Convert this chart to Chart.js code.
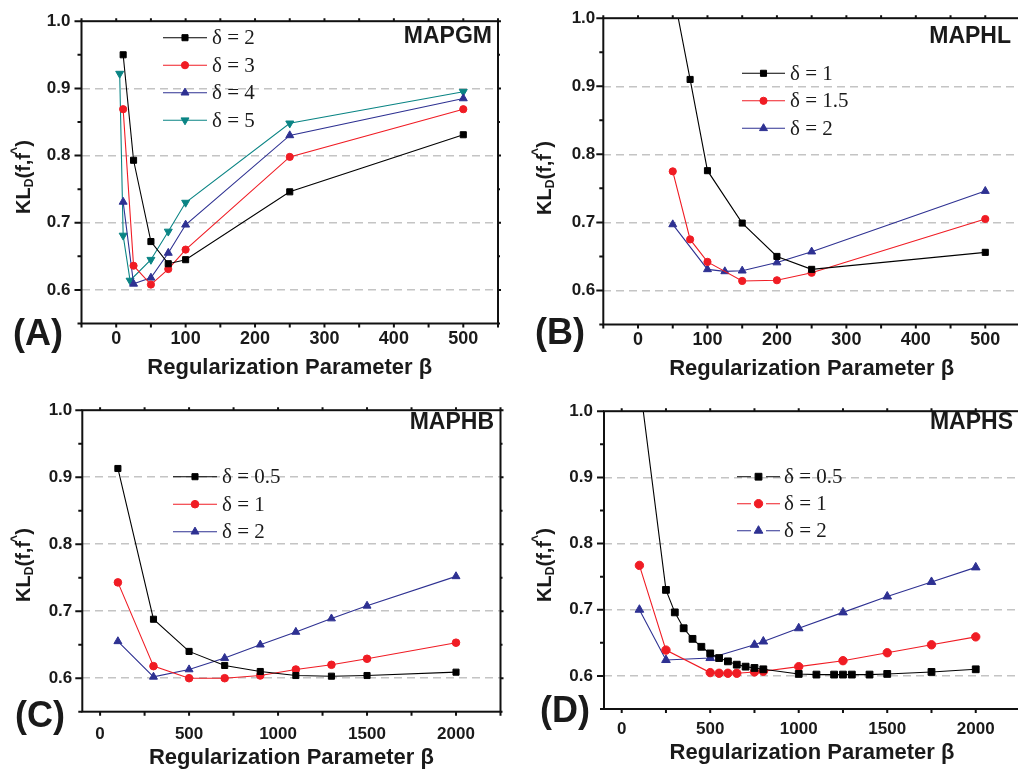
<!DOCTYPE html>
<html>
<head>
<meta charset="utf-8">
<script src="https://cdn.jsdelivr.net/npm/chart.js@4.4.1/dist/chart.umd.min.js"></script>
<style>
  html, body { margin: 0; padding: 0; background: #fff; overflow: hidden; }
  body { width: 1018px; height: 771px; position: relative; }
  canvas { position: absolute; }
  .txt { position: absolute; font-family: "Liberation Sans", Arial, sans-serif; font-weight: bold; color: #1a1a1a; white-space: nowrap; }
  .name { font-size: 23px; transform: translate(-100%, -50%); }
  .letter { font-size: 36px; transform: translate(0, -50%); }
  .ytitle { font-size: 20px; transform: translate(-50%, -50%) rotate(-90deg); }
  .ytitle sub { font-size: 12px; vertical-align: -3px; }
  .ytitle .hat { font-size: 14px; position: relative; top: -9px; margin-left: -2px; }
</style>
</head>
<body>
<canvas id="chartA" width="520" height="390" style="left:0;top:0"></canvas>
<canvas id="chartB" width="500" height="390" style="left:520px;top:0"></canvas>
<canvas id="chartC" width="520" height="381" style="left:0;top:390px"></canvas>
<canvas id="chartD" width="500" height="381" style="left:520px;top:390px"></canvas>

<div class="txt name" style="left:492px;top:35px">MAPGM</div>
<div class="txt name" style="left:1011px;top:35px">MAPHL</div>
<div class="txt name" style="left:494px;top:421px">MAPHB</div>
<div class="txt name" style="left:1013px;top:421px">MAPHS</div>

<div class="txt letter" style="left:13px;top:333px">(A)</div>
<div class="txt letter" style="left:535px;top:332px">(B)</div>
<div class="txt letter" style="left:15px;top:715px">(C)</div>
<div class="txt letter" style="left:540px;top:710px">(D)</div>

<div class="txt ytitle" style="left:24px;top:177px">KL<sub>D</sub>(f,f<span class="hat">^</span>)</div>
<div class="txt ytitle" style="left:545px;top:178px">KL<sub>D</sub>(f,f<span class="hat">^</span>)</div>
<div class="txt ytitle" style="left:24px;top:565px">KL<sub>D</sub>(f,f<span class="hat">^</span>)</div>
<div class="txt ytitle" style="left:545px;top:565px">KL<sub>D</sub>(f,f<span class="hat">^</span>)</div>

<script>
// ---- data ----
// (A) MAPGM
const betaA = [10, 25, 50, 75, 100, 250, 500];
const betaA5 = [5, 10, 20, 50, 75, 100, 250, 500];
const klA_d2 = [0.950, 0.793, 0.672, 0.639, 0.645, 0.746, 0.831];
const klA_d3 = [0.869, 0.636, 0.608, 0.631, 0.660, 0.798, 0.869];
const klA_d4 = [0.731, 0.609, 0.618, 0.655, 0.697, 0.830, 0.885];
const klA_d5 = [0.922, 0.681, 0.614, 0.645, 0.687, 0.730, 0.848, 0.895];

// (B) MAPHL
const betaB1 = [50, 75, 100, 150, 200, 250, 500];
const betaB2 = [50, 100, 125, 150, 200, 250, 500];
const klB_d1 = [1.042, 0.910, 0.776, 0.699, 0.650, 0.631, 0.656];
const klB_d15 = [0.775, 0.675, 0.642, 0.614, 0.615, 0.626, 0.705];
const klB_d2 = [0.697, 0.631, 0.628, 0.629, 0.641, 0.657, 0.746];

// (C) MAPHB
const betaC = [100, 300, 500, 700, 900, 1100, 1300, 1500, 2000];
const klC_d05 = [0.913, 0.688, 0.640, 0.619, 0.610, 0.604, 0.603, 0.604, 0.609];
const klC_d1 = [0.743, 0.618, 0.600, 0.600, 0.604, 0.613, 0.620, 0.629, 0.653];
const klC_d2 = [0.655, 0.602, 0.613, 0.630, 0.650, 0.669, 0.689, 0.708, 0.752];

// (D) MAPHS
const betaD05 = [100, 250, 300, 350, 400, 450, 500, 550, 600, 650, 700, 750, 800, 1000, 1100, 1200, 1250, 1300, 1400, 1500, 1750, 2000];
const klD_d05 = [1.046, 0.730, 0.696, 0.672, 0.656, 0.644, 0.634, 0.627, 0.622, 0.617, 0.614, 0.612, 0.610, 0.603, 0.602, 0.602, 0.602, 0.602, 0.602, 0.603, 0.606, 0.610];
const betaD1 = [100, 250, 500, 550, 600, 650, 750, 800, 1000, 1250, 1500, 1750, 2000];
const klD_d1 = [0.767, 0.639, 0.605, 0.604, 0.604, 0.604, 0.606, 0.607, 0.614, 0.623, 0.635, 0.647, 0.659];
const betaD2 = [100, 250, 500, 750, 800, 1000, 1250, 1500, 1750, 2000];
const klD_d2 = [0.700, 0.624, 0.627, 0.647, 0.652, 0.672, 0.696, 0.720, 0.742, 0.764];

// ---- ticks ----
const yTicks = [0.55, 0.6, 0.65, 0.7, 0.75, 0.8, 0.85, 0.9, 0.95, 1.0];
const yLabels = [0.6, 0.7, 0.8, 0.9, 1.0];
const xTicksAB = [-50, 0, 50, 100, 150, 200, 250, 300, 350, 400, 450, 500, 550];
const xLabelsAB = [0, 100, 200, 300, 400, 500];
const xTicksCD = [0, 250, 500, 750, 1000, 1250, 1500, 1750, 2000, 2250];
const xLabelsCD = [0, 500, 1000, 1500, 2000];

const FONT = '"Liberation Sans", Arial, sans-serif';
const BLACK = '#000000', RED = '#f01c24', BLUE = '#2e3192', TEAL = '#0a8484';

function zip(xs, ys) {
    return xs.map((x, i) => ({ x: x, y: ys[i] }));
}

function series(label, xs, ys, color, style, r) {
    let shape = style === 'down' ? 'triangle' : style;
    return {
        label: label,
        data: zip(xs, ys),
        borderColor: color,
        backgroundColor: color,
        borderWidth: 1.1,
        pointStyle: shape,
        rotation: style === 'down' ? 180 : 0,
        pointRadius: r,
        pointBorderWidth: 1,
        tension: 0,
    };
}

function isIn(v, list) {
    return list.some(l => Math.abs(l - v) < 1e-6);
}

// outer box with Origin style ticks
const framePlugin = {
    id: 'frame',
    afterDraw(chart) {
        const ctx = chart.ctx;
        const a = chart.chartArea;
        const xs = chart.scales.x, ys = chart.scales.y;
        ctx.save();
        ctx.strokeStyle = '#111';
        ctx.lineWidth = 2;
        ctx.strokeRect(a.left, a.top, a.right - a.left, a.bottom - a.top);
        ctx.beginPath();
        ys.ticks.forEach(t => {
            const py = ys.getPixelForValue(t.value);
            const major = isIn(t.value, yLabels);
            ctx.moveTo(a.left, py); ctx.lineTo(a.left - (major ? 7 : 4), py);
            ctx.moveTo(a.right, py); ctx.lineTo(a.right + (major ? 3 : 2), py);
        });
        xs.ticks.forEach(t => {
            const px = xs.getPixelForValue(t.value);
            ctx.moveTo(px, a.bottom); ctx.lineTo(px, a.bottom + 4);
            ctx.moveTo(px, a.top); ctx.lineTo(px, a.top - 3);
        });
        ctx.stroke();
        ctx.restore();
    }
};

// legend: short line with the marker on it, then the label
const lineLegendPlugin = {
    id: 'lineLegend',
    afterDraw(chart, args, opts) {
        const ctx = chart.ctx;
        ctx.save();
        chart.data.datasets.forEach((ds, i) => {
            const y = opts.y + i * opts.rowH;
            const x0 = opts.x, x1 = opts.x + opts.len, mx = (x0 + x1) / 2;
            ctx.strokeStyle = ds.borderColor;
            ctx.lineWidth = 1.1;
            ctx.beginPath();
            if (opts.gap) {
                ctx.moveTo(x0, y); ctx.lineTo(mx - opts.gap, y);
                ctx.moveTo(mx + opts.gap, y); ctx.lineTo(x1, y);
            } else {
                ctx.moveTo(x0, y); ctx.lineTo(x1, y);
            }
            ctx.stroke();
            ctx.fillStyle = ds.backgroundColor;
            ctx.lineWidth = 1;
            Chart.helpers.drawPoint(ctx, {
                pointStyle: ds.pointStyle, rotation: ds.rotation,
                radius: ds.pointRadius, borderWidth: 1
            }, mx, y);
            ctx.fillStyle = '#1a1a1a';
            ctx.font = '21px "Liberation Serif", "Times New Roman", serif';
            ctx.textBaseline = 'middle';
            ctx.textAlign = 'left';
            ctx.fillText(ds.label, x1 + opts.textGap, y + 1);
        });
        ctx.restore();
    }
};

function makeChart(id, datasets, cfg) {
    const ctx = document.getElementById(id).getContext('2d');
    return new Chart(ctx, {
        type: 'line',
        data: { datasets: datasets },
        options: {
            responsive: false,
            animation: false,
            devicePixelRatio: 1,
            layout: {
                autoPadding: false,
                padding: { top: cfg.padTop, right: cfg.padRight, bottom: 0, left: 0 },
            },
            plugins: {
                legend: { display: false },
                tooltip: { enabled: false },
                lineLegend: cfg.legend,
            },
            scales: {
                x: {
                    type: 'linear',
                    min: cfg.xMin, max: cfg.xMax,
                    afterBuildTicks: s => { s.ticks = cfg.xTicks.map(v => ({ value: v })); },
                    afterFit: s => {
                        s.height = cfg.xHeight;
                        s.paddingLeft = 0;
                        s.paddingRight = 0;
                    },
                    grid: { display: false },
                    border: { display: false },
                    ticks: {
                        autoSkip: false, maxRotation: 0,
                        padding: cfg.xPad,
                        color: '#1a1a1a',
                        font: { family: FONT, size: cfg.xFont, weight: 'bold' },
                        callback: v => isIn(v, cfg.xLabels) ? String(v) : '',
                    },
                    title: {
                        display: true,
                        text: 'Regularization Parameter β',
                        color: '#1a1a1a',
                        font: { family: FONT, size: 22, weight: 'bold' },
                        padding: { top: 0, bottom: cfg.titlePad },
                    },
                },
                y: {
                    min: 0.55, max: 1.0,
                    afterBuildTicks: s => { s.ticks = yTicks.map(v => ({ value: v })); },
                    afterFit: s => { s.width = cfg.yWidth; },
                    grid: {
                        drawTicks: false,
                        lineWidth: 1.5,
                        color: c => (c.tick && isIn(c.tick.value, [0.6, 0.7, 0.8, 0.9])) ? '#c4c4c4' : 'rgba(0,0,0,0)',
                    },
                    border: { display: false, dash: [8, 5] },
                    ticks: {
                        autoSkip: false,
                        padding: cfg.yPad,
                        color: '#1a1a1a',
                        font: { family: FONT, size: 17, weight: 'bold' },
                        callback: v => isIn(v, yLabels) ? v.toFixed(1) : '',
                    },
                },
            },
        },
        plugins: [framePlugin, lineLegendPlugin],
    });
}

makeChart('chartA', [
    series('δ = 2', betaA, klA_d2, BLACK, 'rect', 4.3),
    series('δ = 3', betaA, klA_d3, RED, 'circle', 3.6),
    series('δ = 4', betaA, klA_d4, BLUE, 'triangle', 4.6),
    series('δ = 5', betaA5, klA_d5, TEAL, 'down', 4.6),
], {
    xMin: -50, xMax: 550, xTicks: xTicksAB, xLabels: xLabelsAB, xFont: 18, xPad: -3,
    padTop: 15, padRight: 22, yWidth: 81.5, xHeight: 66.5, titlePad: 9, yPad: 11,
    legend: { x: 163, y: 37.7, rowH: 27.5, len: 44, textGap: 5 },
});

makeChart('chartB', [
    series('δ = 1', betaB1, klB_d1, BLACK, 'rect', 4.3),
    series('δ = 1.5', betaB1, klB_d15, RED, 'circle', 3.6),
    series('δ = 2', betaB2, klB_d2, BLUE, 'triangle', 4.6),
], {
    xMin: -50, xMax: 550, xTicks: xTicksAB, xLabels: xLabelsAB, xFont: 18, xPad: -3,
    padTop: 15.5, padRight: 0, yWidth: 83.3, xHeight: 65.5, titlePad: 8, yPad: 8,
    legend: { x: 222, y: 73.3, rowH: 27.5, len: 43, textGap: 5 },
});

makeChart('chartC', [
    series('δ = 0.5', betaC, klC_d05, BLACK, 'rect', 4.3),
    series('δ = 1', betaC, klC_d1, RED, 'circle', 3.8),
    series('δ = 2', betaC, klC_d2, BLUE, 'triangle', 4.6),
], {
    xMin: -100, xMax: 2250, xTicks: xTicksCD, xLabels: xLabelsCD, xFont: 17, xPad: 4,
    padTop: 13.3, padRight: 19.5, yWidth: 82.3, xHeight: 59.3, titlePad: 0, yPad: 10,
    legend: { x: 173, y: 86.7, rowH: 27.5, len: 44, textGap: 5 },
});

makeChart('chartD', [
    series('δ = 0.5', betaD05, klD_d05, BLACK, 'rect', 4.8),
    series('δ = 1', betaD1, klD_d1, RED, 'circle', 4.2),
    series('δ = 2', betaD2, klD_d2, BLUE, 'triangle', 5),
], {
    xMin: -100, xMax: 2250, xTicks: xTicksCD, xLabels: xLabelsCD, xFont: 17, xPad: 2,
    padTop: 10, padRight: 0, yWidth: 84, xHeight: 62, titlePad: 5, yPad: 11,
    legend: { x: 217, y: 86.7, rowH: 27, len: 43, textGap: 4, gap: 7.5 },
});
</script>
</body>
</html>
